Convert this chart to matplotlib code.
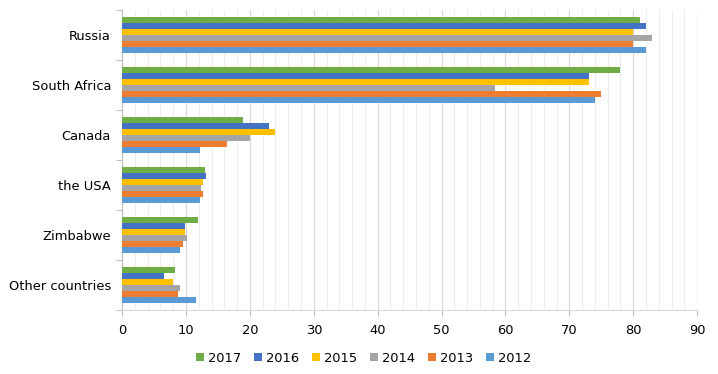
import numpy as np
import matplotlib
matplotlib.use('Agg')
import matplotlib.pyplot as plt
from matplotlib.ticker import MultipleLocator

# Данные
countries = ['Russia', 'South Africa', 'Canada', 'the USA', 'Zimbabwe', 'Other countries']
years = ['2017', '2016', '2015', '2014', '2013', '2012']
v2017 = [81, 78, 18.9, 13.0, 11.9, 8.3]
v2016 = [82, 73, 23.0, 13.2, 9.9, 6.6]
v2015 = [80, 73, 24.0, 12.6, 9.9, 8.0]
v2014 = [83, 58.4, 20.0, 12.4, 10.1, 9.0]
v2013 = [80, 75, 16.5, 12.6, 9.6, 8.8]
v2012 = [82, 74, 12.2, 12.2, 9.0, 11.5]
series = [v2017, v2016, v2015, v2014, v2013, v2012]
colors = ['#70AD47', '#4472C4', '#FFC000', '#A5A5A5', '#ED7D31', '#5B9BD5']

plt.rcParams['font.family'] = ['DejaVu Sans']

fig = plt.figure(figsize=(7.18, 3.74), dpi=100)
ax = fig.add_axes([0.170, 0.171, 0.801, 0.802])

y = np.arange(len(countries))
bar_h = 0.12
for i, (vals, col, yr) in enumerate(zip(series, colors, years)):
    offset = (i - 2.5) * bar_h
    ax.barh(y + offset, vals, height=bar_h, color=col, label=yr, zorder=3)

ax.set_xlim(0, 90)
ax.set_ylim(len(countries) - 0.5, -0.5)
ax.xaxis.set_major_locator(MultipleLocator(10))
ax.xaxis.set_minor_locator(MultipleLocator(2))
ax.grid(which='major', axis='x', color='#D9D9D9', linewidth=0.9, zorder=0)
ax.grid(which='minor', axis='x', color='#EDEDED', linewidth=0.8, zorder=0)

# подписи категорий по центру, засечки на границах
ax.set_yticks(np.arange(-0.5, len(countries), 1))
ax.set_yticklabels([])
ax.set_yticks(y, minor=True)
ax.set_yticklabels(countries, minor=True)
ax.tick_params(axis='y', which='major', length=4, color='#BFBFBF')
ax.tick_params(axis='y', which='minor', length=0, pad=8, labelsize=9.4, labelcolor='#000000')
ax.tick_params(axis='x', which='major', length=4, color='#BFBFBF', labelsize=9.4, pad=6)
ax.tick_params(axis='x', which='minor', length=0)

for s in ['top', 'right']:
    ax.spines[s].set_visible(False)
ax.spines['left'].set_color('#BFBFBF')
ax.spines['bottom'].set_color('#D9D9D9')

ax.legend(loc='upper center', bbox_to_anchor=(0.42, -0.10), ncol=6, frameon=False,
          handlelength=0.6, handleheight=0.6, handletextpad=0.3, columnspacing=1.0,
          fontsize=9.4)

plt.savefig('out.png', dpi=100)
